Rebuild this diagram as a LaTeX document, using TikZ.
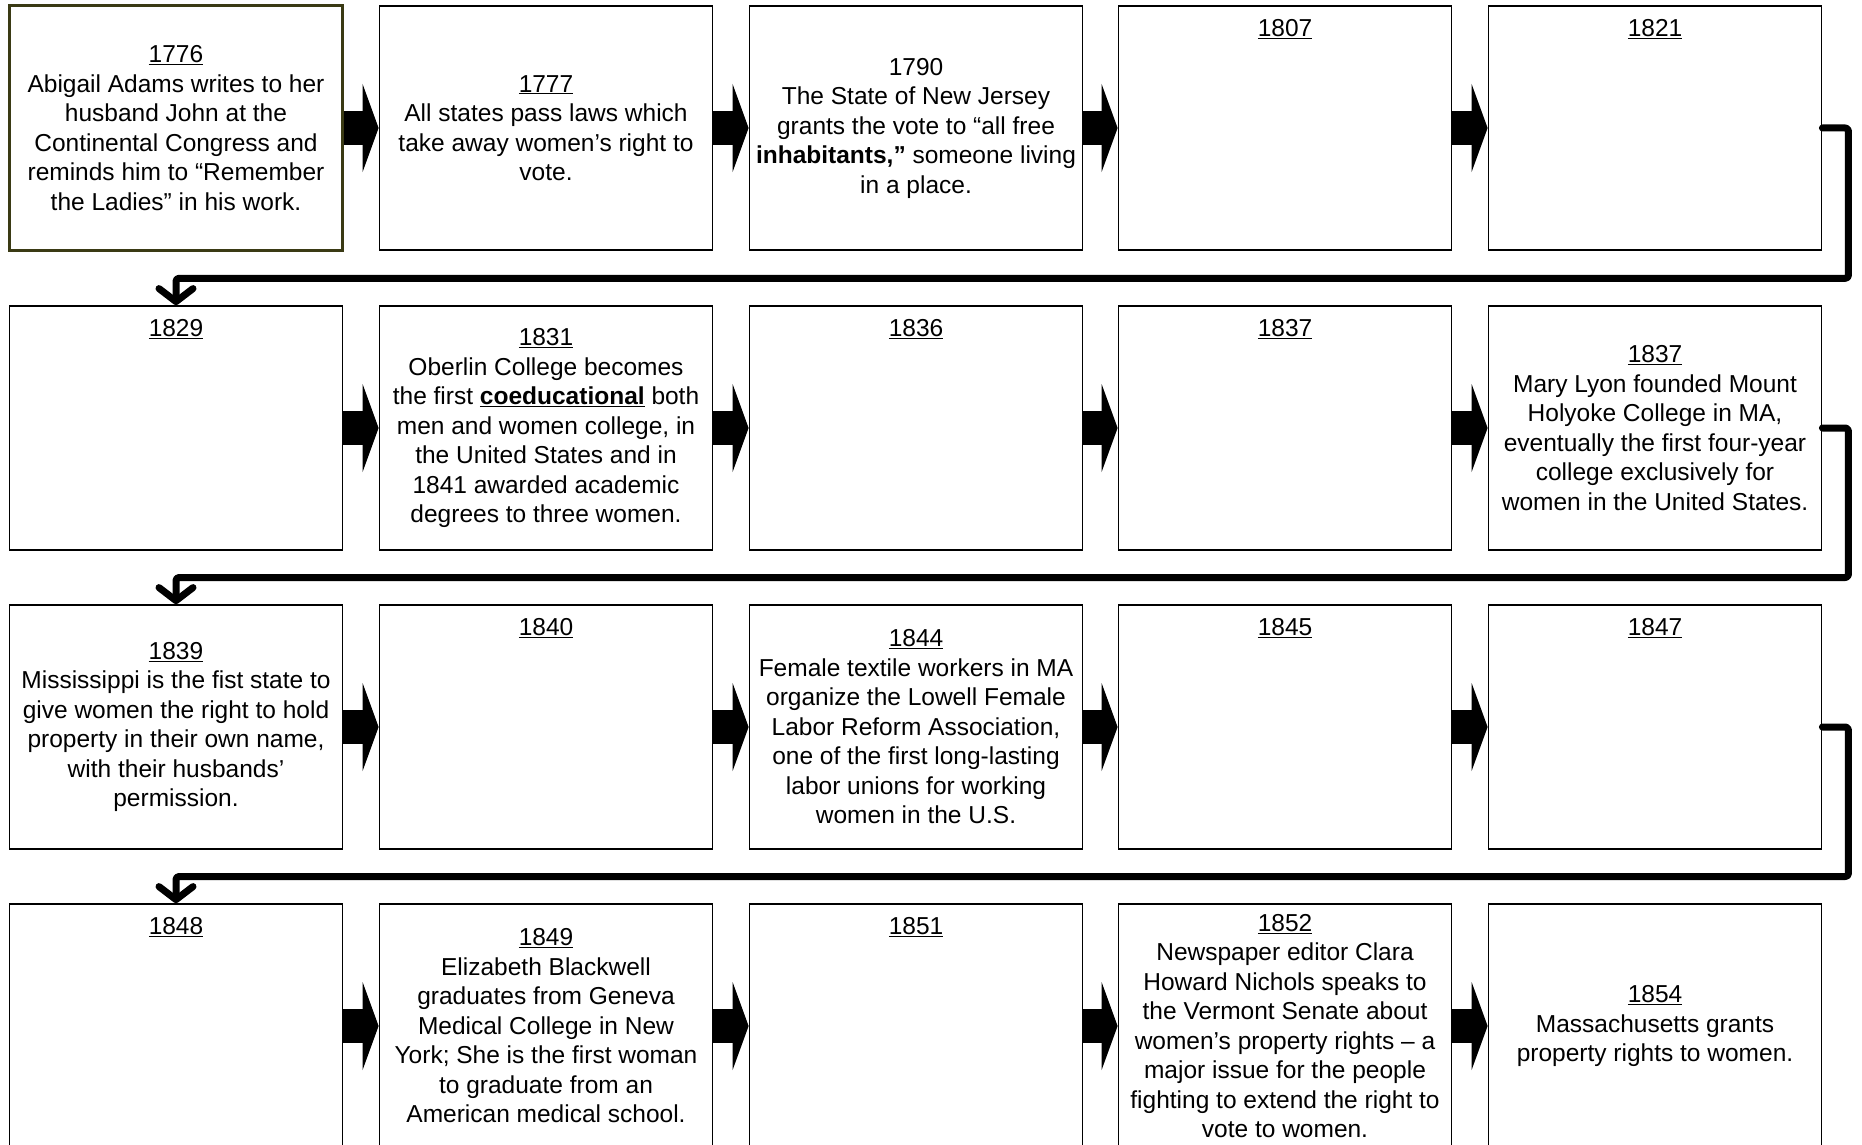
\documentclass[tikz,border=0pt]{standalone}
\usepackage{fontspec}
\setmainfont{Liberation Sans}
\usetikzlibrary{arrows.meta,positioning,calc}

\definecolor{firstedge}{RGB}{58,58,20}
\newcommand{\yr}[1]{\underline{#1}}

\tikzset{
  evbox/.style={draw=black, line width=1.8pt, minimum width=333pt, minimum height=244pt,
    inner sep=0pt, align=center, font=\fontsize{24.5}{29.5}\selectfont},
  yrtop/.style={inner sep=0pt, font=\fontsize{24.5}{29.5}\selectfont},
  blockarrow/.style={line width=34pt, -{Triangle[length=16pt,width=88pt,line width=0pt]}},
  wrap/.style={line width=7pt, line cap=round, line join=round, rounded corners=3pt,
    -{Straight Barb[length=13pt,width=34pt,round]}}
}

\begin{document}
\begin{tikzpicture}[x=1pt,y=-1pt]
\useasboundingbox (0,0) rectangle (1862,1145);
\clip (0,0) rectangle (1862,1145);

% row 1
\node[evbox, draw=firstedge, line width=3pt] (y1776) at (176,128) {\yr{1776}\\Abigail Adams writes to her\\husband John at the\\Continental Congress and\\reminds him to “Remember\\the Ladies” in his work.};
\node[evbox] (y1777) at (546,128) {\yr{1777}\\All states pass laws which\\take away women’s right to\\vote.};
\node[evbox] (y1790) at (916,128) {1790\\The State of New Jersey\\grants the vote to “all free\\\textbf{inhabitants,”} someone living\\in a place.};
\node[evbox] (y1807) at (1285,128) {};
\node[evbox] (y1821) at (1655,128) {};

% row 2
\node[evbox] (y1829) at (176,428) {};
\node[evbox] (y1831) at (546,428) {\yr{1831}\\Oberlin College becomes\\the first \underline{\textbf{coeducational}} both\\men and women college, in\\the United States and in\\1841 awarded academic\\degrees to three women.};
\node[evbox] (y1836) at (916,428) {};
\node[evbox] (y1837a) at (1285,428) {};
\node[evbox] (y1837b) at (1655,428) {\yr{1837}\\Mary Lyon founded Mount\\Holyoke College in MA,\\eventually the first four-year\\college exclusively for\\women in the United States.};

% row 3
\node[evbox] (y1839) at (176,727) {\yr{1839}\\Mississippi is the fist state to\\give women the right to hold\\property in their own name,\\with their husbands’\\permission.};
\node[evbox] (y1840) at (546,727) {};
\node[evbox] (y1844) at (916,727) {\yr{1844}\\Female textile workers in MA\\organize the Lowell Female\\Labor Reform Association,\\one of the first long-lasting\\labor unions for working\\women in the U.S.};
\node[evbox] (y1845) at (1285,727) {};
\node[evbox] (y1847) at (1655,727) {};

% row 4
\node[evbox] (y1848) at (176,1026) {};
\node[evbox] (y1849) at (546,1026) {\yr{1849}\\Elizabeth Blackwell\\graduates from Geneva\\Medical College in New\\York; She is the first woman\\to graduate from an\\American medical school.};
\node[evbox] (y1851) at (916,1026) {};
\node[evbox] (y1852) at (1285,1026) {\yr{1852}\\Newspaper editor Clara\\Howard Nichols speaks to\\the Vermont Senate about\\women’s property rights – a\\major issue for the people\\fighting to extend the right to\\vote to women.};
\node[evbox] (y1854) at (1655,1026) {\yr{1854}\\Massachusetts grants\\property rights to women.};

% years of the empty boxes
\node[yrtop, below=14pt of y1807.north] (t1807) {\yr{1807}};
\node[yrtop, below=14pt of y1821.north] (t1821) {\yr{1821}};
\node[yrtop, below=14pt of y1829.north] (t1829) {\yr{1829}};
\node[yrtop, below=14pt of y1836.north] (t1836) {\yr{1836}};
\node[yrtop, below=14pt of y1837a.north] (t1837) {\yr{1837}};
\node[yrtop, below=14pt of y1840.north] (t1840) {\yr{1840}};
\node[yrtop, below=14pt of y1845.north] (t1845) {\yr{1845}};
\node[yrtop, below=14pt of y1847.north] (t1847) {\yr{1847}};
\node[yrtop, below=14pt of y1848.north] (t1848) {\yr{1848}};
\node[yrtop, below=14pt of y1851.north] (t1851) {\yr{1851}};

% arrows along the rows
\draw[blockarrow] (y1776) -- (y1777);
\draw[blockarrow] (y1777) -- (y1790);
\draw[blockarrow] (y1790) -- (y1807);
\draw[blockarrow] (y1807) -- (y1821);
\draw[blockarrow] (y1829) -- (y1831);
\draw[blockarrow] (y1831) -- (y1836);
\draw[blockarrow] (y1836) -- (y1837a);
\draw[blockarrow] (y1837a) -- (y1837b);
\draw[blockarrow] (y1839) -- (y1840);
\draw[blockarrow] (y1840) -- (y1844);
\draw[blockarrow] (y1844) -- (y1845);
\draw[blockarrow] (y1845) -- (y1847);
\draw[blockarrow] (y1848) -- (y1849);
\draw[blockarrow] (y1849) -- (y1851);
\draw[blockarrow] (y1851) -- (y1852);
\draw[blockarrow] (y1852) -- (y1854);

% wrap to the next row
\draw[wrap] (y1821.east) -- ++(26,0) |- ($(y1776.south)!.5!(y1829.north)$) -- (y1829.north);
\draw[wrap] (y1837b.east) -- ++(26,0) |- ($(y1829.south)!.5!(y1839.north)$) -- (y1839.north);
\draw[wrap] (y1847.east) -- ++(26,0) |- ($(y1839.south)!.5!(y1848.north)$) -- (y1848.north);
\end{tikzpicture}
\end{document}
